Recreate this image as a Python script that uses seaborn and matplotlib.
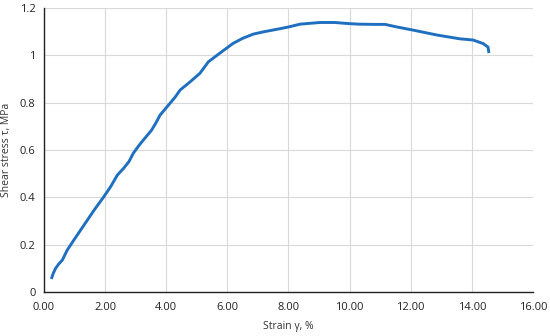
import numpy as np
import pandas as pd
import matplotlib
matplotlib.use("Agg")
import matplotlib.pyplot as plt
import seaborn as sns

# Strain (%) and shear stress (MPa)
strain = [0.24, 0.30, 0.38, 0.48, 0.60, 0.76, 0.98, 1.31, 1.64, 1.96, 2.18,
          2.40, 2.60, 2.78, 2.92, 3.10, 3.25, 3.52, 3.65, 3.80, 4.12, 4.30,
          4.45, 4.78, 5.10, 5.38, 5.76, 6.19, 6.50, 6.85, 7.20, 7.61, 8.00,
          8.38, 9.03, 9.52, 9.90, 10.29, 10.80, 11.16, 11.55, 12.07, 12.86,
          13.61, 14.04, 14.37, 14.53, 14.56]
stress = [0.055, 0.078, 0.100, 0.118, 0.135, 0.177, 0.220, 0.283, 0.346, 0.403,
          0.445, 0.494, 0.522, 0.551, 0.586, 0.618, 0.642, 0.684, 0.712, 0.748,
          0.797, 0.825, 0.853, 0.888, 0.924, 0.973, 1.010, 1.051, 1.072, 1.090,
          1.100, 1.110, 1.120, 1.132, 1.139, 1.139, 1.135, 1.132, 1.131, 1.131,
          1.120, 1.107, 1.086, 1.070, 1.065, 1.050, 1.035, 1.010]

df = pd.DataFrame({"strain": strain, "stress": stress})

sns.set_style("white")
plt.rcParams["font.family"] = ["Open Sans", "DejaVu Sans"]

fig = plt.figure(figsize=(5.5, 3.36), dpi=100)
ax = fig.add_axes([0.08, 0.131, 0.889, 0.845])

sns.lineplot(data=df, x="strain", y="stress", ax=ax, color="#1f6fc0",
             linewidth=2.1, sort=False, solid_capstyle="butt", solid_joinstyle="round")

ax.set_xlim(0, 16)
ax.set_ylim(0, 1.2)
ax.set_xticks(np.arange(0, 16.1, 2))
ax.set_xticklabels([f"{v:.2f}" for v in np.arange(0, 16.1, 2)])
ax.set_yticks([0, 0.2, 0.4, 0.6, 0.8, 1.0, 1.2])
ax.set_yticklabels(["0", "0.2", "0.4", "0.6", "0.8", "1", "1.2"])

ax.grid(True, color="#d9d9d9", linewidth=0.8)
ax.set_axisbelow(True)
for s in ["top", "right"]:
    ax.spines[s].set_visible(False)
for s in ["left", "bottom"]:
    ax.spines[s].set_color("#222222")
    ax.spines[s].set_linewidth(1.0)
ax.tick_params(axis="both", direction="out", length=4, width=1.0, color="#222222",
               labelsize=8, labelcolor="#222222", pad=3)
ax.tick_params(axis="y", length=3)

ax.set_xlabel("Strain γ, %", fontsize=7.5, color="#333333", labelpad=6)
ax.set_ylabel("Shear stress τ, MPa", fontsize=7.5, color="#333333", labelpad=6)

fig.savefig("out.png", dpi=100)
